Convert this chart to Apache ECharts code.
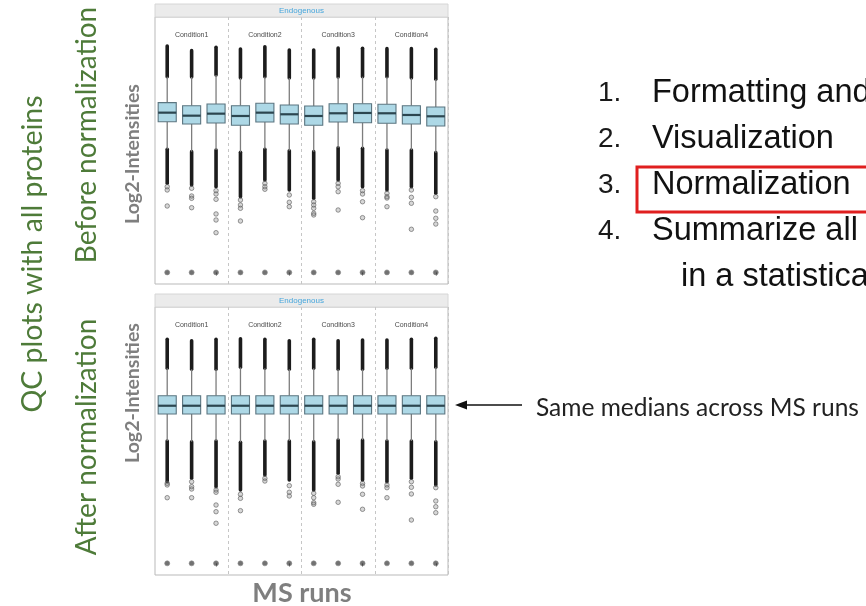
<!DOCTYPE html>
<html>
<head>
<meta charset="utf-8">
<script src="https://cdn.jsdelivr.net/npm/echarts@6/dist/echarts.min.js"></script>
<style>
  html, body { margin: 0; padding: 0; background: #ffffff; }
  #main { width: 866px; height: 606px; }
</style>
</head>
<body>
<div id="main"></div>
<script>
// MS runs and experimental conditions (3 runs per condition)
const runs = ['1', '2', '3', '4', '5', '6', '7', '8', '9', '10', '11', '12'];
const conditions = ['Condition1', 'Condition2', 'Condition3', 'Condition4'];
const panelTitle = 'Endogenous';

// Log2 intensities before normalization
const beforeQ1 = [19.47, 19.18, 19.30, 19.01, 19.43, 19.18, 19.01, 19.43, 19.34, 19.27, 19.18, 18.92];
const beforeMedian = [20.64, 20.25, 20.51, 20.21, 20.64, 20.43, 20.21, 20.56, 20.60, 20.56, 20.34, 20.17];
const beforeQ3 = [21.93, 21.54, 21.76, 21.54, 21.85, 21.63, 21.50, 21.80, 21.80, 21.72, 21.54, 21.37];
const beforeWhiskerLow = [15.91, 15.60, 15.82, 15.52, 15.91, 15.72, 15.60, 16.11, 16.04, 15.82, 15.82, 15.47];
const beforeWhiskerHigh = [25.29, 25.25, 25.51, 25.12, 25.29, 25.12, 25.12, 25.25, 25.29, 25.29, 25.12, 24.95];
const beforeMax = [29.25, 28.65, 29.09, 28.87, 29.16, 28.74, 28.74, 29.00, 28.96, 28.91, 28.91, 28.83];
const beforeDenseLow = [11.51, 11.29, 11.07, 9.78, 11.94, 10.65, 9.57, 11.94, 11.07, 10.65, 11.07, 10.22];
const beforeSparse = [
  [11.07, 10.65, 8.58],
  [10.87, 9.87, 9.57, 8.36],
  [10.56, 10.13, 9.44, 7.55, 6.77, 5.13],
  [9.35, 8.71, 8.28, 6.64],
  [11.51, 11.07, 10.74],
  [10.00, 9.06, 8.49],
  [9.13, 8.71, 8.28, 7.64, 7.42],
  [11.51, 11.07, 10.43, 8.06],
  [10.56, 10.13, 9.13, 7.07],
  [10.22, 9.78, 9.61, 8.49],
  [10.65, 9.70, 8.93, 5.57],
  [9.78, 7.93, 6.99, 6.25]
];
const beforeMissing = [0, 0, 0, 0, 0, 0, 0, 0, 0, 0, 0, 0];

// Log2 intensities after normalization
const afterQ1 = [19.23, 19.23, 19.23, 19.23, 19.23, 19.23, 19.23, 19.23, 19.23, 19.23, 19.23, 19.23];
const afterMedian = [20.29, 20.29, 20.29, 20.29, 20.29, 20.29, 20.29, 20.29, 20.29, 20.29, 20.29, 20.29];
const afterQ3 = [21.58, 21.58, 21.58, 21.58, 21.58, 21.58, 21.58, 21.58, 21.58, 21.58, 21.58, 21.58];
const afterWhiskerLow = [15.75, 15.66, 15.75, 15.58, 15.75, 15.75, 15.66, 15.88, 15.88, 15.75, 15.75, 15.66];
const afterWhiskerHigh = [25.11, 24.98, 24.98, 25.24, 25.11, 24.98, 25.11, 24.98, 24.98, 25.11, 25.11, 25.24];
const afterMax = [28.84, 28.66, 28.84, 28.92, 28.84, 28.66, 28.84, 28.66, 28.75, 28.75, 28.84, 28.97];
const afterDenseLow = [10.51, 10.95, 9.87, 9.44, 11.37, 10.73, 9.44, 11.59, 10.73, 10.51, 10.95, 10.09];
const afterSparse = [
  [10.30, 10.09, 8.45],
  [10.51, 9.87, 9.57, 8.45],
  [9.44, 9.15, 7.51, 6.65, 5.16],
  [8.89, 8.37, 6.78],
  [10.95, 10.60],
  [10.00, 9.15, 8.67],
  [9.02, 8.45, 7.81, 7.60],
  [11.15, 10.86, 10.18, 7.86],
  [10.30, 9.96, 8.89, 6.96],
  [10.09, 9.74, 8.45],
  [10.51, 9.79, 8.93, 5.58],
  [9.74, 8.03, 7.29, 6.52]
];
const afterMissing = [0, 0, 0, 0, 0, 0, 0, 0, 0, 0, 0, 0];

// Workflow steps listed on the right
const steps = ['Formatting and filtering', 'Visualization', 'Normalization', 'Summarize all features'];
const stepContinuation = 'in a statistical model';

const chart = echarts.init(document.getElementById('main'), null, { renderer: 'canvas' });

const panels = [
  { top: 17, height: 267, q1: beforeQ1, med: beforeMedian, q3: beforeQ3, wl: beforeWhiskerLow, wh: beforeWhiskerHigh,
    max: beforeMax, denseLow: beforeDenseLow, sparse: beforeSparse, missing: beforeMissing },
  { top: 307, height: 268, q1: afterQ1, med: afterMedian, q3: afterQ3, wl: afterWhiskerLow, wh: afterWhiskerHigh,
    max: afterMax, denseLow: afterDenseLow, sparse: afterSparse, missing: afterMissing }
];

// box with whiskers, no end caps, thick median line
function renderBox(params, api) {
  const x = api.value(0);
  const lo = api.coord([x, api.value(1)]);
  const q1 = api.coord([x, api.value(2)]);
  const med = api.coord([x, api.value(3)]);
  const q3 = api.coord([x, api.value(4)]);
  const hi = api.coord([x, api.value(5)]);
  const w = api.size([1, 0])[0] * 0.74;
  const whisker = { stroke: '#7d7d7d', lineWidth: 1.3 };
  return {
    type: 'group',
    children: [
      { type: 'line', shape: { x1: lo[0], y1: lo[1], x2: q1[0], y2: q1[1] }, style: whisker },
      { type: 'line', shape: { x1: q3[0], y1: q3[1], x2: hi[0], y2: hi[1] }, style: whisker },
      { type: 'rect', shape: { x: q3[0] - w / 2, y: q3[1], width: w, height: q1[1] - q3[1] },
        style: { fill: '#add8e6', stroke: '#5b7580', lineWidth: 1.1 } },
      { type: 'line', shape: { x1: med[0] - w / 2, y1: med[1], x2: med[0] + w / 2, y2: med[1] },
        style: { stroke: '#2c4650', lineWidth: 2.2 } }
    ]
  };
}

// densely overlapping outliers, drawn as a solid run of points
function renderDense(params, api) {
  const x = api.value(0);
  const a = api.coord([x, api.value(1)]);
  const b = api.coord([x, api.value(2)]);
  return {
    type: 'line',
    shape: { x1: a[0], y1: a[1], x2: b[0], y2: b[1] },
    style: { stroke: '#1c1c1c', lineWidth: 3.6, lineCap: 'round' }
  };
}

const grid = [], xAxis = [], yAxis = [], series = [];
panels.forEach((p, k) => {
  grid.push({ left: 155, top: p.top, width: 293, height: p.height, show: true,
    borderColor: '#b9b9b9', borderWidth: 1, backgroundColor: '#ffffff' });
  xAxis.push({
    type: 'category', gridIndex: k, data: runs,
    axisLine: { show: false },
    axisLabel: { show: false },
    axisTick: { show: true, alignWithLabel: true, interval: (i) => i % 3 === 2, length: 3,
      lineStyle: { color: '#333333', width: 1 } },
    splitLine: { show: true, interval: (i) => i > 0 && i % 3 === 0,
      lineStyle: { type: [3, 3], color: '#c6c6c6', width: 1 } }
  });
  xAxis.push({
    type: 'category', gridIndex: k, position: 'top', data: runs,
    axisLine: { show: false }, axisTick: { show: false }, splitLine: { show: false },
    axisLabel: { inside: true, interval: 0, margin: 15, fontSize: 7, color: '#4a4a4a',
      fontFamily: 'Liberation Sans',
      formatter: (v, i) => (i % 3 === 1 ? conditions[Math.floor(i / 3)] : '') }
  });
  yAxis.push({
    type: 'value', gridIndex: k, min: -1.5, max: 33,
    axisLine: { show: false }, axisTick: { show: false }, axisLabel: { show: false }, splitLine: { show: false }
  });

  const dense = [];
  runs.forEach((r, i) => {
    dense.push([i, p.wh[i], p.max[i]]);
    dense.push([i, p.denseLow[i], p.wl[i]]);
  });
  series.push({
    type: 'custom', xAxisIndex: k * 2, yAxisIndex: k, renderItem: renderDense,
    encode: { x: 0, y: [1, 2] }, data: dense, z: 2, silent: true
  });

  const sparse = [];
  p.sparse.forEach((vals, i) => vals.forEach((v) => sparse.push([i, v])));
  series.push({
    type: 'scatter', xAxisIndex: k * 2, yAxisIndex: k, data: sparse, symbol: 'circle', symbolSize: 4.5,
    itemStyle: { color: 'rgba(110,110,110,0.35)', borderColor: '#5e5e5e', borderWidth: 0.8 }, z: 3, silent: true
  });

  series.push({
    type: 'scatter', xAxisIndex: k * 2, yAxisIndex: k, data: p.missing.map((v, i) => [i, v]),
    symbol: 'circle', symbolSize: 5,
    itemStyle: { color: '#4f4f4f', borderColor: '#8a8a8a', borderWidth: 0.8 }, z: 3, silent: true
  });

  series.push({
    type: 'custom', xAxisIndex: k * 2, yAxisIndex: k, renderItem: renderBox,
    encode: { x: 0, y: [1, 2, 3, 4, 5] },
    data: runs.map((r, i) => [i, p.wl[i], p.q1[i], p.med[i], p.q3[i], p.wh[i]]), z: 4, silent: true
  });
});

const green = '#4e7b39';
const gray = '#7f7f7f';
const sideFont = 'Lato';

function vText(text, x, y, size, color, weight) {
  return { type: 'text', x: x, y: y, rotation: Math.PI / 2,
    style: { text: text, fontSize: size, fontFamily: sideFont, fontWeight: weight || 'normal',
      fill: color, align: 'center', verticalAlign: 'middle' } };
}

const graphic = [
  // facet strips
  { type: 'rect', shape: { x: 155, y: 4, width: 293, height: 13 }, style: { fill: '#ebebeb', stroke: '#d6d6d6', lineWidth: 1 } },
  { type: 'text', x: 301.5, y: 10.5, style: { text: panelTitle, fontSize: 8, fontFamily: 'Liberation Sans', fill: '#46a6dc', align: 'center', verticalAlign: 'middle' } },
  { type: 'rect', shape: { x: 155, y: 294, width: 293, height: 13 }, style: { fill: '#ebebeb', stroke: '#d6d6d6', lineWidth: 1 } },
  { type: 'text', x: 301.5, y: 300.5, style: { text: panelTitle, fontSize: 8, fontFamily: 'Liberation Sans', fill: '#46a6dc', align: 'center', verticalAlign: 'middle' } },

  // side titles
  vText('QC plots with all proteins', 33, 254, 28.5, green),
  vText('Before normalization', 87, 135, 28, green),
  vText('After normalization', 87, 437, 28, green),
  vText('Log2-Intensities', 133, 154, 19.5, gray, 'bold'),
  vText('Log2-Intensities', 133, 393, 19.5, gray, 'bold'),
  { type: 'text', x: 302, y: 593, style: { text: 'MS runs', fontSize: 27, fontFamily: sideFont, fontWeight: 'bold', fill: gray, align: 'center', verticalAlign: 'middle' } },

  // annotation arrow
  { type: 'line', shape: { x1: 522, y1: 405, x2: 462, y2: 405 }, style: { stroke: '#111111', lineWidth: 1.6 } },
  { type: 'polygon', shape: { points: [[455, 405], [467, 400.5], [467, 409.5]] }, style: { fill: '#111111' } },
  { type: 'text', x: 536, y: 408, style: { text: 'Same medians across MS runs', fontSize: 24.5, fontFamily: sideFont, fill: '#222222', align: 'left', verticalAlign: 'middle' } },

  // highlight box around the normalization step
  { type: 'rect', shape: { x: 637, y: 167, width: 260, height: 45 }, style: { fill: 'none', stroke: '#e01f1f', lineWidth: 3 } }
];

steps.forEach((s, i) => {
  const y = 93 + i * 46;
  graphic.push({ type: 'text', x: 598, y: y, style: { text: (i + 1) + '.', fontSize: 28, fontFamily: 'Liberation Sans', fill: '#1a1a1a', align: 'left', verticalAlign: 'middle' } });
  graphic.push({ type: 'text', x: 652, y: y, style: { text: s, fontSize: 32.5, fontFamily: 'Liberation Sans', fill: '#111111', align: 'left', verticalAlign: 'middle' } });
});
graphic.push({ type: 'text', x: 681, y: 277, style: { text: stepContinuation, fontSize: 32.5, fontFamily: 'Liberation Sans', fill: '#111111', align: 'left', verticalAlign: 'middle' } });

chart.setOption({
  animation: false,
  backgroundColor: '#ffffff',
  grid: grid,
  xAxis: xAxis,
  yAxis: yAxis,
  series: series,
  graphic: graphic
});
</script>
</body>
</html>
